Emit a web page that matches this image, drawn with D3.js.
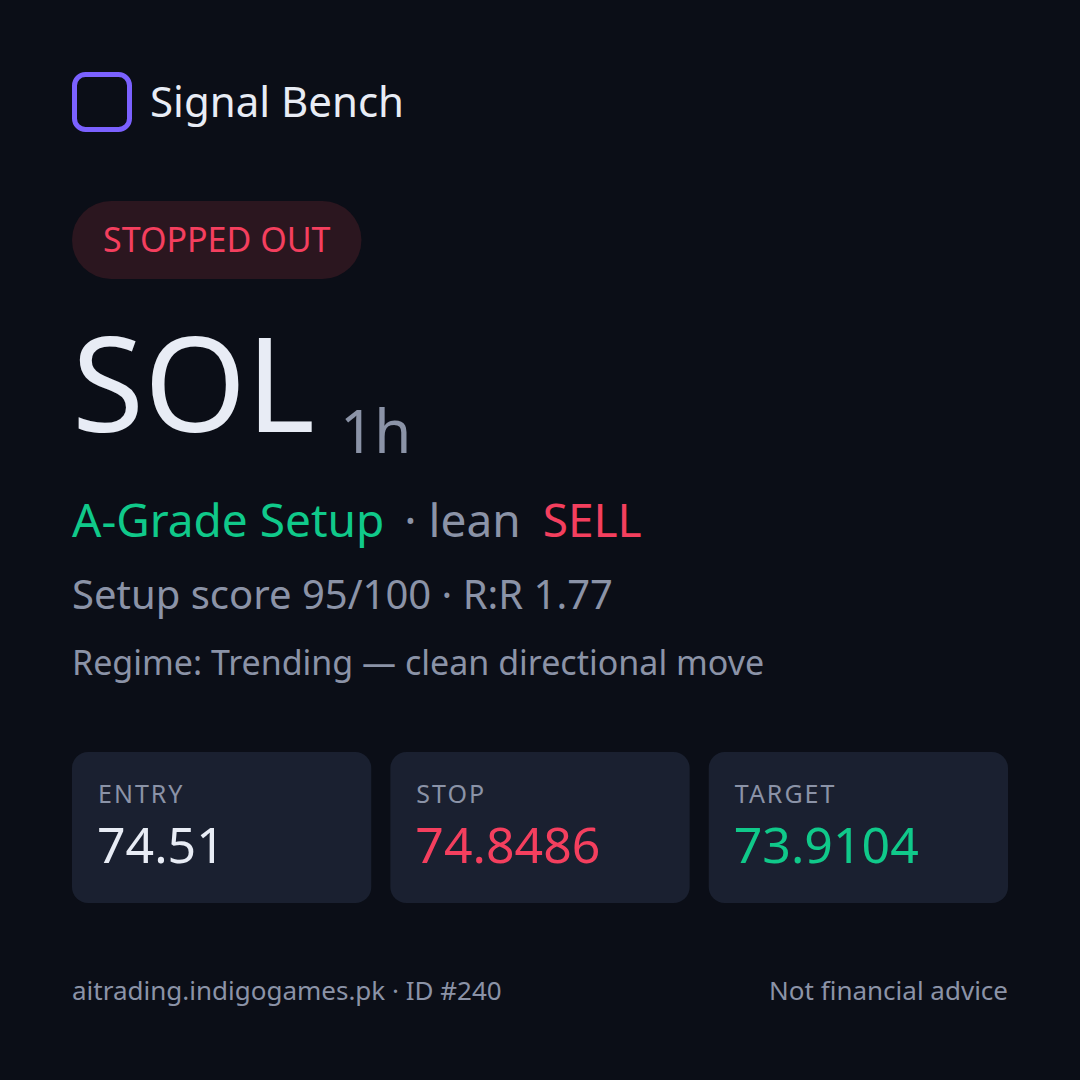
<!DOCTYPE html>
<html lang="en">
<head>
    <meta charset="UTF-8">
    <title>Signal Bench card</title>
    <script src="https://d3js.org/d3.v7.min.js"></script>
    <style>
        html, body { margin: 0; padding: 0; background: #0b0e17; }
        svg { display: block; font-family: "Noto Sans", sans-serif; }
    </style>
</head>
<body>
<svg width="1080" height="1080"></svg>

<script>
    // card content
    const brand = "Signal Bench";
    const status = "STOPPED OUT";
    const symbol = "SOL";
    const timeframe = "1h";
    const grade = "A-Grade Setup";
    const lean = "SELL";
    const score = 95, scoreMax = 100, riskReward = 1.77;
    const regime = "Regime: Trending \u2014 clean directional move";

    const levelNames = ["ENTRY", "STOP", "TARGET"];
    const levelValues = ["74.51", "74.8486", "73.9104"];
    const levelColors = ["#e8ecf5", "#f43f5e", "#10c98a"];

    const footerLeft = "aitrading.indigogames.pk \u00b7 ID #240";
    const footerRight = "Not financial advice";

    const W = 1080, H = 1080, pad = 72;
    const svg = d3.select("svg");

    svg.append("rect").attr("width", W).attr("height", H).attr("fill", "#0b0e17");

    // logo + brand
    svg.append("rect")
        .attr("x", 74.5).attr("y", 74.5)
        .attr("width", 55).attr("height", 55)
        .attr("rx", 11)
        .attr("fill", "none")
        .attr("stroke", "#7b61ff")
        .attr("stroke-width", 5);

    svg.append("text")
        .attr("x", 150).attr("y", 117)
        .attr("font-size", 42)
        .attr("fill", "#e8ecf5")
        .text(brand);

    // status pill
    const pill = svg.append("g");
    const pillText = pill.append("text")
        .attr("x", 103).attr("y", 252)
        .attr("font-size", 34)
        .attr("fill", "#f43f5e")
        .text(status);
    const tw = pillText.node().getComputedTextLength();
    pill.insert("rect", "text")
        .attr("x", pad).attr("y", 201)
        .attr("width", tw + 62).attr("height", 78)
        .attr("rx", 39)
        .attr("fill", "#2b161f");

    // symbol + timeframe
    const sym = svg.append("text")
        .attr("x", 72).attr("y", 432)
        .attr("font-size", 131)
        .attr("fill", "#e8ecf5")
        .text(symbol);
    const symW = sym.node().getComputedTextLength();
    svg.append("text")
        .attr("x", 72 + symW + 25).attr("y", 453)
        .attr("font-size", 60)
        .attr("fill", "#8b93a7")
        .text(timeframe);

    // grade line
    const gradeLine = svg.append("text")
        .attr("x", 72).attr("y", 537)
        .attr("font-size", 46);
    gradeLine.append("tspan").attr("fill", "#10c98a").text(grade);
    gradeLine.append("tspan").attr("fill", "#8b93a7").attr("dx", 20).text("\u00b7 lean");
    gradeLine.append("tspan").attr("fill", "#f43f5e").attr("dx", 22).text(lean);

    svg.append("text")
        .attr("x", 72).attr("y", 609)
        .attr("font-size", 40)
        .attr("fill", "#8b93a7")
        .text(`Setup score ${score}/${scoreMax} \u00b7 R:R ${riskReward.toFixed(2)}`);

    svg.append("text")
        .attr("x", 72).attr("y", 675)
        .attr("font-size", 34)
        .attr("fill", "#8b93a7")
        .text(regime);

    // level boxes
    const x = d3.scaleBand()
        .domain(levelNames)
        .range([pad, W - pad])
        .paddingInner(0.06);

    const boxes = svg.append("g")
        .selectAll("g")
        .data(levelNames)
        .join("g")
        .attr("transform", d => `translate(${x(d)},752)`);

    boxes.append("rect")
        .attr("width", x.bandwidth())
        .attr("height", 151)
        .attr("rx", 16)
        .attr("fill", "#1a2030");

    boxes.append("text")
        .attr("x", 26).attr("y", 51)
        .attr("font-size", 25)
        .attr("letter-spacing", 2)
        .attr("fill", "#8b93a7")
        .text(d => d);

    boxes.append("text")
        .attr("x", 25).attr("y", 111)
        .attr("font-size", 50)
        .attr("fill", (d, i) => levelColors[i])
        .text((d, i) => levelValues[i]);

    // footer
    svg.append("text")
        .attr("x", 72).attr("y", 1000)
        .attr("font-size", 26)
        .attr("fill", "#8b93a7")
        .text(footerLeft);

    svg.append("text")
        .attr("x", W - pad).attr("y", 1000)
        .attr("text-anchor", "end")
        .attr("font-size", 26)
        .attr("fill", "#8b93a7")
        .text(footerRight);
</script>
</body>
</html>
